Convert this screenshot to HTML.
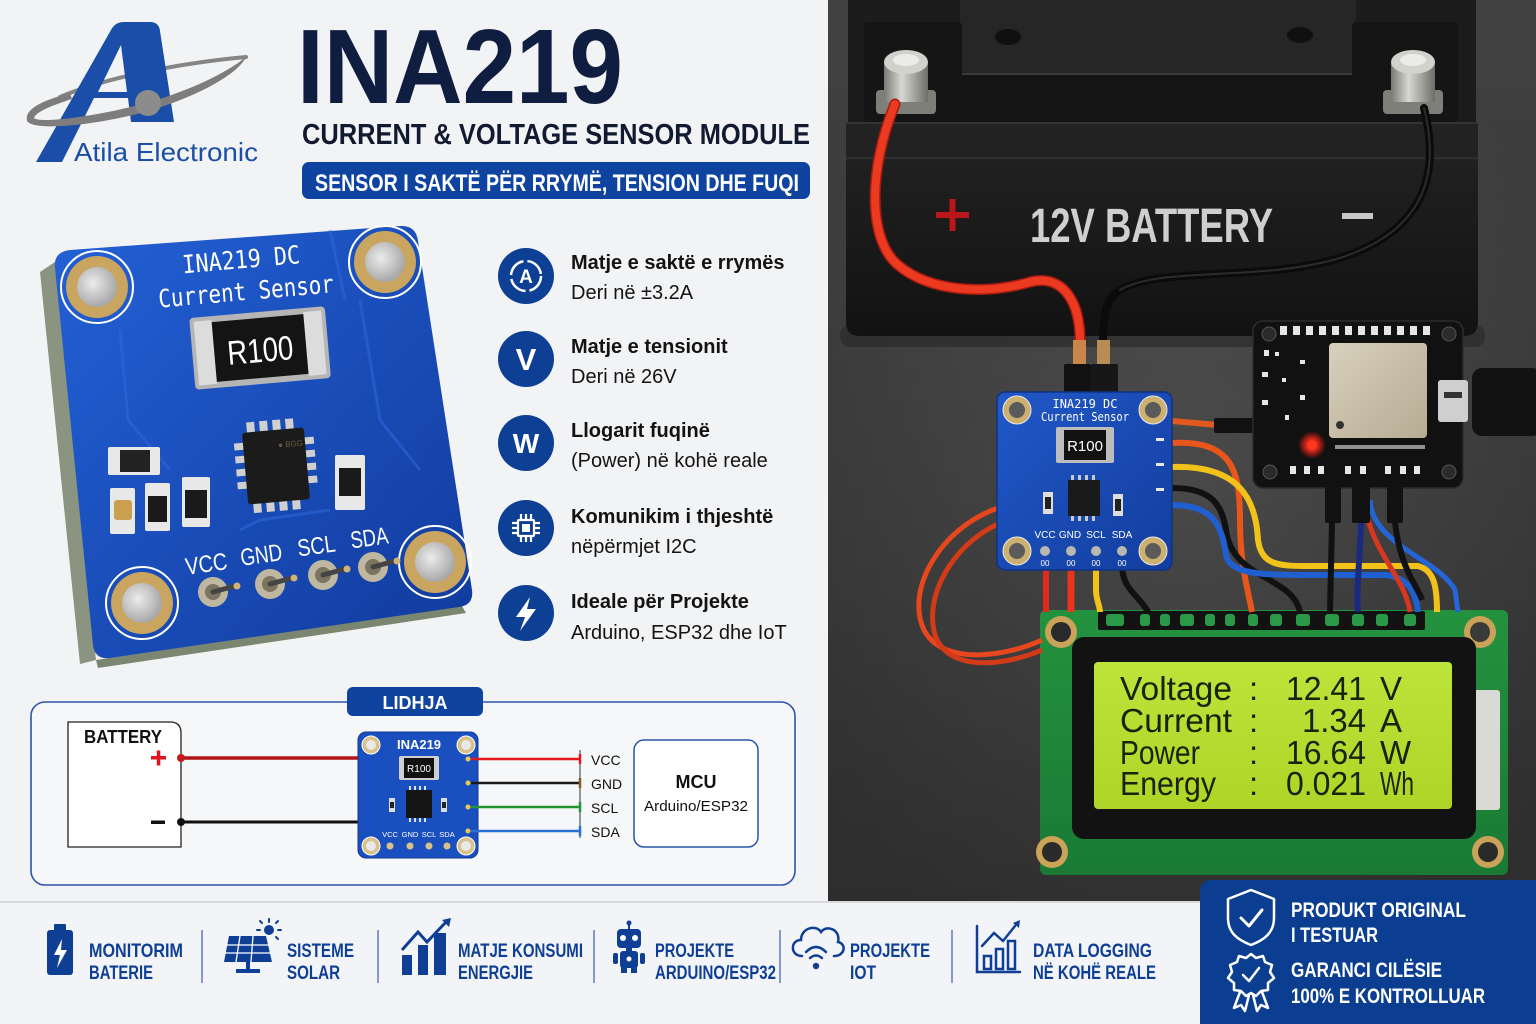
<!DOCTYPE html>
<html><head><meta charset="utf-8">
<style>
html,body{margin:0;padding:0;background:#f2f3f5;}
svg{display:block;}
text{font-family:"Liberation Sans",sans-serif;}
.mono{font-family:"DejaVu Sans Mono","Liberation Mono",monospace;}
.lcd{font-family:"Liberation Mono","DejaVu Sans Mono",monospace;fill:#18220c;}
</style></head><body>
<svg width="1536" height="1024" viewBox="0 0 1536 1024" xmlns="http://www.w3.org/2000/svg">
<defs>
<linearGradient id="floor" x1="0" y1="0" x2="0" y2="1"><stop offset="0" stop-color="#575757"/><stop offset="0.5" stop-color="#4a4a4a"/><stop offset="1" stop-color="#3c3c3c"/></linearGradient>
<radialGradient id="floorr" cx="0.5" cy="0.55" r="0.6"><stop offset="0" stop-color="#000" stop-opacity="0"/><stop offset="1" stop-color="#000" stop-opacity="0.25"/></radialGradient>
<linearGradient id="batt" x1="0" y1="0" x2="0" y2="1"><stop offset="0" stop-color="#202020"/><stop offset="1" stop-color="#121212"/></linearGradient>
<linearGradient id="pcb" x1="0" y1="0" x2="1" y2="1"><stop offset="0" stop-color="#2361d6"/><stop offset="1" stop-color="#113a9c"/></linearGradient>
<linearGradient id="pcb2" x1="0" y1="0" x2="1" y2="1"><stop offset="0" stop-color="#2158c8"/><stop offset="1" stop-color="#123d9e"/></linearGradient>
<linearGradient id="term" x1="0" y1="0" x2="1" y2="0"><stop offset="0" stop-color="#7a7a74"/><stop offset="0.4" stop-color="#d8d8d2"/><stop offset="1" stop-color="#6d6d68"/></linearGradient>
<linearGradient id="lcdg" x1="0" y1="0" x2="0" y2="1"><stop offset="0" stop-color="#bde43a"/><stop offset="1" stop-color="#aed427"/></linearGradient>
<linearGradient id="green" x1="0" y1="0" x2="0" y2="1"><stop offset="0" stop-color="#23923f"/><stop offset="1" stop-color="#1a7a34"/></linearGradient>
<linearGradient id="shield" x1="0" y1="0" x2="1" y2="1"><stop offset="0" stop-color="#d8d0bd"/><stop offset="1" stop-color="#b7ab93"/></linearGradient>
<radialGradient id="led"><stop offset="0" stop-color="#fff3e0"/><stop offset="0.3" stop-color="#ff3020"/><stop offset="1" stop-color="#ff2010" stop-opacity="0"/></radialGradient>
<radialGradient id="hole" cx="0.4" cy="0.4" r="0.6"><stop offset="0" stop-color="#ececec"/><stop offset="1" stop-color="#a8a8a8"/></radialGradient>
</defs>

<!-- LEFT BACKGROUND -->
<rect x="0" y="0" width="828" height="903" fill="#f2f3f5"/>

<!-- ================= PHOTO ================= -->
<rect x="828" y="0" width="708" height="903" fill="url(#floor)"/>
<rect x="828" y="0" width="708" height="903" fill="url(#floorr)"/>
<rect x="840" y="325" width="645" height="22" rx="10" fill="#262626" opacity="0.6"/>
<rect x="848" y="-10" width="628" height="170" rx="10" fill="#1c1c1c"/>
<rect x="960" y="0" width="396" height="74" fill="#262626"/>
<ellipse cx="1008" cy="37" rx="13" ry="8" fill="#101010"/>
<ellipse cx="1300" cy="35" rx="13" ry="8" fill="#101010"/>
<rect x="961" y="73" width="395" height="50" fill="#141414"/>
<line x1="961" y1="74" x2="1356" y2="74" stroke="#3a3a3a" stroke-width="2"/>
<rect x="864" y="22" width="98" height="100" rx="4" fill="#151515"/>
<rect x="1352" y="22" width="106" height="100" rx="4" fill="#151515"/>
<rect x="846" y="122" width="632" height="40" fill="#222"/>
<line x1="846" y1="123" x2="1478" y2="123" stroke="#333" stroke-width="2"/>
<line x1="846" y1="158" x2="1478" y2="158" stroke="#2f2f2f" stroke-width="2"/>
<path d="M846,160 H1478 V322 Q1478,336 1464,336 H860 Q846,336 846,322 Z" fill="url(#batt)"/>
<rect x="876" y="90" width="60" height="24" rx="4" fill="#7f7f7a"/>
<rect x="884" y="62" width="44" height="40" fill="url(#term)"/>
<ellipse cx="906" cy="62" rx="22" ry="12" fill="#d2d2cc"/>
<ellipse cx="906" cy="60" rx="13" ry="6" fill="#ececea"/>
<rect x="1383" y="90" width="60" height="24" rx="4" fill="#7f7f7a"/>
<rect x="1391" y="62" width="44" height="40" fill="url(#term)"/>
<ellipse cx="1413" cy="62" rx="22" ry="12" fill="#d2d2cc"/>
<ellipse cx="1413" cy="60" rx="13" ry="6" fill="#ececea"/>
<rect x="936" y="212" width="33" height="6" fill="#b8161a"/>
<rect x="949.5" y="199" width="6" height="32" fill="#b8161a"/>
<text x="1030" y="242" font-size="48" font-weight="bold" fill="#cfcfcf" textLength="243" lengthAdjust="spacingAndGlyphs">12V BATTERY</text>
<rect x="1342" y="213" width="31" height="6" fill="#c8c8c8"/>

<path d="M895,104 C868,170 868,240 898,265 C930,292 985,295 1030,282 C1062,274 1081,300 1080,345" fill="none" stroke="#a81b10" stroke-width="11" stroke-linecap="round"/>
<path d="M895,104 C868,170 868,240 898,265 C930,292 985,295 1030,282 C1062,274 1081,300 1080,345" fill="none" stroke="#ec3a20" stroke-width="8" stroke-linecap="round"/>
<path d="M1424,108 C1442,180 1420,232 1340,258 C1260,282 1160,266 1120,290 C1104,300 1103,320 1103,345" fill="none" stroke="#0b0b0b" stroke-width="8" stroke-linecap="round"/>
<path d="M1424,108 C1442,180 1420,232 1340,258 C1260,282 1160,266 1120,290" fill="none" stroke="#3a3a3a" stroke-width="2" stroke-linecap="round" opacity="0.7"/>
<rect x="1073" y="340" width="13" height="28" fill="#c8864a"/>
<rect x="1097" y="340" width="13" height="28" fill="#b88c55"/>
<rect x="1064" y="364" width="27" height="32" rx="2" fill="#111"/>
<rect x="1091" y="364" width="27" height="32" rx="2" fill="#171717"/>

<!-- LCD -->
<rect x="1040" y="610" width="468" height="265" rx="6" fill="url(#green)"/>
<rect x="1098" y="611" width="327" height="19" rx="2" fill="#121212"/>
<g fill="#2a9a48">
<rect x="1106" y="614" width="18" height="12" rx="3"/><rect x="1140" y="614" width="10" height="12" rx="3"/><rect x="1160" y="614" width="10" height="12" rx="3"/><rect x="1180" y="614" width="14" height="12" rx="3"/><rect x="1205" y="614" width="10" height="12" rx="3"/><rect x="1225" y="614" width="10" height="12" rx="3"/><rect x="1248" y="614" width="10" height="12" rx="3"/><rect x="1270" y="614" width="12" height="12" rx="3"/><rect x="1296" y="614" width="14" height="12" rx="3"/><rect x="1325" y="614" width="14" height="12" rx="3"/><rect x="1352" y="614" width="12" height="12" rx="3"/><rect x="1376" y="614" width="12" height="12" rx="3"/><rect x="1404" y="614" width="12" height="12" rx="3"/>
</g>
<circle cx="1061" cy="632" r="16" fill="#caa258"/><circle cx="1061" cy="632" r="10" fill="#2a2a2a"/>
<circle cx="1480" cy="632" r="16" fill="#caa258"/><circle cx="1480" cy="632" r="10" fill="#3a3a3a"/>
<circle cx="1052" cy="852" r="16" fill="#caa258"/><circle cx="1052" cy="852" r="10" fill="#2a2a2a"/>
<circle cx="1488" cy="852" r="16" fill="#caa258"/><circle cx="1488" cy="852" r="10" fill="#2a2a2a"/>
<rect x="1470" y="690" width="30" height="120" rx="3" fill="#d9d9d6"/>
<rect x="1072" y="637" width="404" height="202" rx="12" fill="#121212"/>
<rect x="1094" y="662" width="358" height="147" rx="4" fill="url(#lcdg)"/>
<g class="lcd" font-size="33">
<text x="1120" y="700" textLength="112" lengthAdjust="spacingAndGlyphs">Voltage</text>
<text x="1249" y="700">:</text>
<text x="1286" y="700" textLength="80" lengthAdjust="spacingAndGlyphs">12.41</text>
<text x="1380" y="700">V</text>
<text x="1120" y="732" textLength="112" lengthAdjust="spacingAndGlyphs">Current</text>
<text x="1249" y="732">:</text>
<text x="1302" y="732" textLength="64" lengthAdjust="spacingAndGlyphs">1.34</text>
<text x="1380" y="732">A</text>
<text x="1120" y="764" textLength="80" lengthAdjust="spacingAndGlyphs">Power</text>
<text x="1249" y="764">:</text>
<text x="1286" y="764" textLength="80" lengthAdjust="spacingAndGlyphs">16.64</text>
<text x="1380" y="764">W</text>
<text x="1120" y="795" textLength="96" lengthAdjust="spacingAndGlyphs">Energy</text>
<text x="1249" y="795">:</text>
<text x="1286" y="795" textLength="80" lengthAdjust="spacingAndGlyphs">0.021</text>
<text x="1380" y="795" textLength="34" lengthAdjust="spacingAndGlyphs">Wh</text>
</g>

<!-- loop wires left -->
<path d="M998,508 C940,528 905,590 924,630 C944,668 1010,655 1042,640" fill="none" stroke="#e8461c" stroke-width="5"/>
<path d="M998,524 C952,545 922,598 936,638 C954,676 1014,662 1042,650" fill="none" stroke="#d23a18" stroke-width="5"/>
<path d="M1046,565 L1046,612" stroke="#e02a1e" stroke-width="6"/>
<path d="M1071,565 L1071,612" stroke="#e8361e" stroke-width="7"/>
<path d="M1096,565 L1096,590 C1096,600 1100,606 1100,612" fill="none" stroke="#f2c21a" stroke-width="6"/>
<path d="M1122,565 C1122,590 1140,596 1148,612" fill="none" stroke="#111" stroke-width="6"/>
<path d="M1172,443 C1232,440 1240,470 1240,520 C1240,565 1248,590 1252,612" fill="none" stroke="#e9561c" stroke-width="6"/>
<path d="M1172,488 C1212,488 1222,505 1226,530 C1232,580 1292,575 1300,612" fill="none" stroke="#111" stroke-width="6"/>
<path d="M1172,505 C1210,505 1222,522 1226,555 C1230,574 1262,575 1300,575 L1385,575 C1408,577 1416,592 1418,612" fill="none" stroke="#1f5fd0" stroke-width="6"/>
<path d="M1172,467 C1240,465 1256,500 1258,540 C1262,568 1282,566 1320,566 L1418,566 C1434,570 1437,586 1437,612" fill="none" stroke="#f2c21a" stroke-width="6"/>
<path d="M1332,522 L1330,612" stroke="#111" stroke-width="6"/>
<path d="M1361,522 C1360,560 1356,590 1358,612" fill="none" stroke="#1a2a80" stroke-width="6"/>
<path d="M1370,500 C1372,545 1440,560 1455,590 L1458,612" fill="none" stroke="#2466d8" stroke-width="5"/>
<path d="M1368,520 C1380,560 1405,580 1410,612" fill="none" stroke="#d8361e" stroke-width="5"/>
<path d="M1395,522 C1400,570 1420,590 1422,600" fill="none" stroke="#111" stroke-width="6"/>
<path d="M1172,421 L1218,425" stroke="#e05a20" stroke-width="6"/>
<rect x="1214" y="418" width="44" height="15" rx="2" fill="#111"/>

<!-- sensor module (photo) -->
<rect x="997" y="392" width="175" height="178" rx="8" fill="url(#pcb2)" stroke="#0d3288" stroke-width="1.5"/>
<g>
<circle cx="1017" cy="410" r="14" fill="#cdb070" stroke="#e8e8e8" stroke-width="1"/><circle cx="1017" cy="410" r="8" fill="#5a5a5a"/>
<circle cx="1153" cy="410" r="14" fill="#cdb070" stroke="#e8e8e8" stroke-width="1"/><circle cx="1153" cy="410" r="8" fill="#5a5a5a"/>
<circle cx="1017" cy="551" r="14" fill="#cdb070" stroke="#e8e8e8" stroke-width="1"/><circle cx="1017" cy="551" r="8" fill="#5a5a5a"/>
<circle cx="1153" cy="551" r="14" fill="#cdb070" stroke="#e8e8e8" stroke-width="1"/><circle cx="1153" cy="551" r="8" fill="#5a5a5a"/>
</g>
<text class="mono" x="1085" y="408" font-size="12" fill="#fff" text-anchor="middle">INA219 DC</text>
<text class="mono" x="1085" y="421" font-size="12" fill="#fff" text-anchor="middle" textLength="88" lengthAdjust="spacingAndGlyphs">Current Sensor</text>
<rect x="1056" y="427" width="58" height="36" rx="2" fill="#bdbdbd"/>
<rect x="1064" y="430" width="42" height="30" fill="#121212"/>
<text x="1085" y="451" font-size="15" fill="#fff" text-anchor="middle">R100</text>
<rect x="1068" y="480" width="32" height="36" fill="#1a1a1a"/>
<g fill="#c9c9c9"><rect x="1071" y="475" width="3" height="5"/><rect x="1078" y="475" width="3" height="5"/><rect x="1085" y="475" width="3" height="5"/><rect x="1092" y="475" width="3" height="5"/><rect x="1071" y="516" width="3" height="5"/><rect x="1078" y="516" width="3" height="5"/><rect x="1085" y="516" width="3" height="5"/><rect x="1092" y="516" width="3" height="5"/></g>
<rect x="1043" y="492" width="10" height="22" fill="#ddd"/><rect x="1045" y="497" width="6" height="12" fill="#222"/>
<rect x="1113" y="494" width="10" height="22" fill="#ddd"/><rect x="1115" y="499" width="6" height="12" fill="#222"/>
<g fill="#e8e8e8"><rect x="1156" y="438" width="8" height="3"/><rect x="1156" y="463" width="8" height="3"/><rect x="1156" y="488" width="8" height="3"/></g>
<g font-size="10" fill="#fff" text-anchor="middle"><text x="1045" y="538">VCC</text><text x="1070" y="538">GND</text><text x="1096" y="538">SCL</text><text x="1122" y="538">SDA</text></g>
<g fill="#b8b8b0"><circle cx="1045" cy="551" r="5"/><circle cx="1071" cy="551" r="5"/><circle cx="1096" cy="551" r="5"/><circle cx="1122" cy="551" r="5"/></g>
<g font-size="8" fill="#fff" text-anchor="middle"><text x="1045" y="566">00</text><text x="1071" y="566">00</text><text x="1096" y="566">00</text><text x="1122" y="566">00</text></g>

<!-- ESP32 -->
<rect x="1253" y="321" width="210" height="167" rx="10" fill="#111" stroke="#2c2c2c" stroke-width="1.5"/>
<g fill="#e6e6e6">
<rect x="1280" y="326" width="7" height="9"/><rect x="1293" y="326" width="7" height="9"/><rect x="1306" y="326" width="7" height="9"/><rect x="1319" y="326" width="7" height="9"/><rect x="1332" y="326" width="7" height="9"/><rect x="1345" y="326" width="7" height="9"/><rect x="1358" y="326" width="7" height="9"/><rect x="1371" y="326" width="7" height="9"/><rect x="1384" y="326" width="7" height="9"/><rect x="1397" y="326" width="7" height="9"/><rect x="1410" y="326" width="7" height="9"/><rect x="1423" y="326" width="7" height="9"/>
<rect x="1264" y="350" width="5" height="6"/><rect x="1275" y="352" width="4" height="4"/><rect x="1262" y="372" width="6" height="5"/><rect x="1282" y="378" width="4" height="4"/><rect x="1300" y="360" width="5" height="4"/><rect x="1262" y="400" width="6" height="5"/><rect x="1300" y="395" width="5" height="5"/><rect x="1285" y="415" width="4" height="5"/>
<rect x="1290" y="466" width="6" height="8"/><rect x="1304" y="466" width="6" height="8"/><rect x="1318" y="466" width="6" height="8"/><rect x="1345" y="466" width="6" height="8"/><rect x="1360" y="466" width="6" height="8"/><rect x="1385" y="466" width="6" height="8"/><rect x="1400" y="466" width="6" height="8"/><rect x="1414" y="466" width="6" height="8"/>
<rect x="1335" y="445" width="90" height="4" opacity="0.6"/>
</g>
<circle cx="1269" cy="334" r="7" fill="#2b2b2b" stroke="#555"/>
<circle cx="1449" cy="334" r="7" fill="#2b2b2b" stroke="#555"/>
<circle cx="1270" cy="472" r="7" fill="#2b2b2b" stroke="#555"/>
<circle cx="1449" cy="472" r="7" fill="#2b2b2b" stroke="#555"/>
<rect x="1329" y="343" width="98" height="95" rx="4" fill="url(#shield)"/>
<circle cx="1340" cy="425" r="4" fill="#333"/>
<circle cx="1312" cy="445" r="14" fill="url(#led)"/>
<circle cx="1312" cy="445" r="4" fill="#ff3a20"/>
<rect x="1438" y="380" width="30" height="42" rx="3" fill="#cfcfcf"/>
<rect x="1444" y="392" width="18" height="6" fill="#333"/>
<rect x="1472" y="368" width="70" height="68" rx="10" fill="#121212"/>
<rect x="1325" y="487" width="16" height="36" rx="2" fill="#111"/>
<rect x="1352" y="487" width="18" height="36" rx="2" fill="#111"/>
<rect x="1387" y="487" width="16" height="36" rx="2" fill="#111"/>

<!-- ================= HEADER ================= -->
<!-- logo -->
<path d="M60,97 C100,80 170,64 246,57" fill="none" stroke="#858585" stroke-width="4" stroke-linecap="round"/>
<path fill-rule="evenodd" fill="#1a4ea8" d="M36,162 L111,30 Q115,22 124,22 L150,22 Q159,22 160,31 L174,122 L131,122 L128,98 L94,98 L62,162 Z M121,45 L98,92 L127,92 Z"/>
<path d="M27,121 C24,108 45,100 70,93 L72,99 C50,106 36,112 34,118 C40,124 100,116 150,102 C190,90 225,74 246,57 C238,74 200,95 152,110 C100,125 34,132 27,121 Z" fill="#7d7d7d"/>
<circle cx="148" cy="103" r="13" fill="#8c8c8c"/>
<text x="74" y="161" font-size="26" fill="#1b4ea6" textLength="184" lengthAdjust="spacingAndGlyphs">Atila Electronic</text>

<text x="297" y="103" font-size="106" font-weight="bold" fill="#0f1d40" textLength="326" lengthAdjust="spacingAndGlyphs">INA219</text>
<text x="302" y="144" font-size="29" font-weight="bold" fill="#111a30" textLength="508" lengthAdjust="spacingAndGlyphs">CURRENT &amp; VOLTAGE SENSOR MODULE</text>
<rect x="302" y="162" width="508" height="37" rx="7" fill="#0e44a0"/>
<text x="315" y="191" font-size="24" font-weight="bold" fill="#fff" textLength="484" lengthAdjust="spacingAndGlyphs">SENSOR I SAKTË PËR RRYMË, TENSION DHE FUQI</text>

<!-- ================= BIG BOARD ================= -->
<path d="M55,262 L40,272 L80,664 L96,660 Z" fill="#8a9480"/>
<path d="M96,660 L98,668 L466,613 L462,606 Z" fill="#7a8670"/>
<path d="M70,250 L400,226 Q416,225 418,241 L472,590 Q474,605 459,607 L110,658 Q95,660 93,645 L55,268 Q53,252 70,250 Z" fill="url(#pcb)"/>
<g fill="none" stroke="#2f6ae0" stroke-width="3" opacity="0.5">
<path d="M120,330 L128,420 L170,470"/><path d="M360,300 L380,420 L420,470"/><path d="M330,230 L345,300"/><path d="M240,530 L260,520 L330,510"/>
</g>
<g>
<circle cx="97" cy="287" r="36" fill="none" stroke="#fff" stroke-width="2"/><circle cx="97" cy="287" r="31" fill="#c9a560"/><circle cx="97" cy="287" r="20" fill="url(#hole)"/>
<circle cx="385" cy="262" r="36" fill="none" stroke="#fff" stroke-width="2"/><circle cx="385" cy="262" r="31" fill="#c9a560"/><circle cx="385" cy="262" r="20" fill="url(#hole)"/>
<circle cx="142" cy="603" r="36" fill="none" stroke="#fff" stroke-width="2"/><circle cx="142" cy="603" r="31" fill="#c9a560"/><circle cx="142" cy="603" r="20" fill="url(#hole)"/>
<circle cx="435" cy="562" r="36" fill="none" stroke="#fff" stroke-width="2"/><circle cx="435" cy="562" r="31" fill="#c9a560"/><circle cx="435" cy="562" r="20" fill="url(#hole)"/>
</g>
<g transform="rotate(-5 245 280)">
<text class="mono" x="243" y="268" font-size="25" fill="#fff" text-anchor="middle" textLength="118" lengthAdjust="spacingAndGlyphs">INA219 DC</text>
<text class="mono" x="245" y="300" font-size="25" fill="#fff" text-anchor="middle" textLength="176" lengthAdjust="spacingAndGlyphs">Current Sensor</text>
</g>
<g transform="rotate(-5 260 347)">
<rect x="192" y="312" width="136" height="72" rx="4" fill="#b5b5b5"/>
<rect x="196" y="316" width="18" height="64" fill="#dcdcdc"/>
<rect x="306" y="316" width="18" height="64" fill="#dcdcdc"/>
<rect x="214" y="318" width="92" height="60" fill="#141414"/>
<text x="260" y="362" font-size="34" fill="#fff" text-anchor="middle" textLength="66" lengthAdjust="spacingAndGlyphs">R100</text>
</g>
<g transform="rotate(-5 276 466)">
<g fill="#d0d0d0">
<rect x="250" y="420" width="8" height="11"/><rect x="263" y="420" width="8" height="11"/><rect x="276" y="420" width="8" height="11"/><rect x="289" y="420" width="8" height="11"/>
<rect x="250" y="500" width="8" height="11"/><rect x="263" y="500" width="8" height="11"/><rect x="276" y="500" width="8" height="11"/><rect x="289" y="500" width="8" height="11"/>
<rect x="236" y="440" width="11" height="7"/><rect x="236" y="453" width="11" height="7"/><rect x="236" y="466" width="11" height="7"/><rect x="236" y="479" width="11" height="7"/>
<rect x="305" y="440" width="11" height="7"/><rect x="305" y="453" width="11" height="7"/><rect x="305" y="466" width="11" height="7"/><rect x="305" y="479" width="11" height="7"/>
</g>
<rect x="245" y="430" width="62" height="72" rx="3" fill="#1b1b1b"/>
<text x="280" y="448" font-size="8" fill="#6a6040">● BGG</text>
</g>
<g>
<rect x="108" y="447" width="52" height="28" rx="2" fill="#e8e8e8"/><rect x="120" y="450" width="30" height="22" fill="#222"/>
<rect x="110" y="488" width="25" height="46" rx="2" fill="#e8e8e8"/><rect x="114" y="500" width="18" height="20" rx="3" fill="#c8a050"/>
<rect x="145" y="483" width="25" height="48" rx="2" fill="#e8e8e8"/><rect x="148" y="496" width="19" height="26" fill="#1a1a1a"/>
<rect x="182" y="477" width="28" height="50" rx="2" fill="#e8e8e8"/><rect x="185" y="490" width="22" height="28" fill="#1a1a1a"/>
<rect x="335" y="455" width="30" height="55" rx="2" fill="#e8e8e8"/><rect x="339" y="468" width="22" height="28" fill="#1a1a1a"/>
</g>
<g font-size="24" fill="#fff" text-anchor="middle">
<text x="206" y="572" transform="rotate(-8 206 562)" textLength="42" lengthAdjust="spacingAndGlyphs">VCC</text>
<text x="261" y="563" transform="rotate(-8 261 553)" textLength="42" lengthAdjust="spacingAndGlyphs">GND</text>
<text x="316" y="554" transform="rotate(-8 316 544)" textLength="38" lengthAdjust="spacingAndGlyphs">SCL</text>
<text x="369" y="546" transform="rotate(-8 369 536)" textLength="38" lengthAdjust="spacingAndGlyphs">SDA</text>
</g>
<g>
<circle cx="213" cy="592" r="15" fill="#bfb7a0"/><circle cx="213" cy="592" r="8" fill="#7a7460"/><line x1="213" y1="592" x2="235" y2="586" stroke="#444" stroke-width="5" stroke-linecap="round"/><circle cx="237" cy="586" r="3.5" fill="#cdb27a"/>
<circle cx="270" cy="584" r="15" fill="#bfb7a0"/><circle cx="270" cy="584" r="8" fill="#7a7460"/><line x1="270" y1="584" x2="292" y2="578" stroke="#444" stroke-width="5" stroke-linecap="round"/><circle cx="294" cy="578" r="3.5" fill="#cdb27a"/>
<circle cx="323" cy="575" r="15" fill="#bfb7a0"/><circle cx="323" cy="575" r="8" fill="#7a7460"/><line x1="323" y1="575" x2="345" y2="569" stroke="#444" stroke-width="5" stroke-linecap="round"/><circle cx="347" cy="569" r="3.5" fill="#cdb27a"/>
<circle cx="373" cy="567" r="15" fill="#bfb7a0"/><circle cx="373" cy="567" r="8" fill="#7a7460"/><line x1="373" y1="567" x2="395" y2="561" stroke="#444" stroke-width="5" stroke-linecap="round"/><circle cx="397" cy="561" r="3.5" fill="#cdb27a"/>
</g>

<!-- ================= FEATURES ================= -->
<g fill="#0d3f94">
<circle cx="526" cy="276" r="28"/><circle cx="526" cy="359" r="28"/><circle cx="526" cy="443" r="28"/><circle cx="526" cy="528" r="28"/><circle cx="526" cy="613" r="28"/>
</g>
<circle cx="526" cy="276" r="15" fill="none" stroke="#fff" stroke-width="2.5" stroke-dasharray="20 4"/>
<text x="526" y="283" font-size="19" font-weight="bold" fill="#fff" text-anchor="middle">A</text>
<text x="526" y="370" font-size="31" font-weight="bold" fill="#fff" text-anchor="middle">V</text>
<text x="526" y="453" font-size="28" font-weight="bold" fill="#fff" text-anchor="middle">W</text>
<g stroke="#fff" stroke-width="2.2" fill="none">
<rect x="518" y="520" width="16" height="16" rx="1"/>
<path d="M521,514 V519 M526,514 V519 M531,514 V519 M521,537 V542 M526,537 V542 M531,537 V542 M512,523 H517 M512,528 H517 M512,533 H517 M535,523 H540 M535,528 H540 M535,533 H540"/>
</g>
<rect x="522" y="524" width="8" height="8" fill="#fff"/>
<path d="M530,597 L516,617 L525,617 L520,631 L536,609 L527,609 Z" fill="#fff"/>
<g font-size="20" fill="#131313">
<text x="571" y="269" font-weight="bold">Matje e saktë e rrymës</text>
<text x="571" y="299">Deri në ±3.2A</text>
<text x="571" y="353" font-weight="bold">Matje e tensionit</text>
<text x="571" y="383">Deri në 26V</text>
<text x="571" y="437" font-weight="bold">Llogarit fuqinë</text>
<text x="571" y="467">(Power) në kohë reale</text>
<text x="571" y="523" font-weight="bold">Komunikim i thjeshtë</text>
<text x="571" y="553">nëpërmjet I2C</text>
<text x="571" y="608" font-weight="bold">Ideale për Projekte</text>
<text x="571" y="639">Arduino, ESP32 dhe IoT</text>
</g>

<!-- ================= LIDHJA ================= -->
<rect x="31" y="702" width="764" height="183" rx="14" fill="#f6f7f9" stroke="#2c55a8" stroke-width="1.6"/>
<rect x="347" y="687" width="136" height="29" rx="6" fill="#0e44a0"/>
<text x="415" y="709" font-size="18" font-weight="bold" fill="#fff" text-anchor="middle">LIDHJA</text>
<path d="M68,722 H170 Q181,722 181,733 V847 H68 Z" fill="#fff" stroke="#222" stroke-width="1.3"/>
<text x="84" y="743" font-size="18" font-weight="bold" fill="#111" textLength="78" lengthAdjust="spacingAndGlyphs">BATTERY</text>
<rect x="151" y="756" width="15" height="3.5" fill="#e0141c"/><rect x="156.8" y="750.5" width="3.5" height="15" fill="#e0141c"/>
<rect x="151" y="820.5" width="14" height="3.5" fill="#111"/>
<line x1="181" y1="758" x2="364" y2="758" stroke="#b41418" stroke-width="3.5"/>
<circle cx="181" cy="758" r="4" fill="#c81a1a"/>
<line x1="181" y1="822" x2="364" y2="822" stroke="#111" stroke-width="3"/>
<circle cx="181" cy="822" r="4" fill="#111"/>
<rect x="358" y="732" width="120" height="126" rx="8" fill="#1a4fc0" stroke="#0f3a94" stroke-width="1"/>
<g>
<circle cx="371" cy="745" r="9" fill="#d9c28a" stroke="#fff" stroke-width="1"/><circle cx="371" cy="745" r="5" fill="#e9e9e9"/>
<circle cx="466" cy="745" r="9" fill="#d9c28a" stroke="#fff" stroke-width="1"/><circle cx="466" cy="745" r="5" fill="#e9e9e9"/>
<circle cx="371" cy="846" r="9" fill="#d9c28a" stroke="#fff" stroke-width="1"/><circle cx="371" cy="846" r="5" fill="#e9e9e9"/>
<circle cx="466" cy="846" r="9" fill="#d9c28a" stroke="#fff" stroke-width="1"/><circle cx="466" cy="846" r="5" fill="#e9e9e9"/>
</g>
<text x="419" y="749" font-size="13" font-weight="bold" fill="#fff" text-anchor="middle">INA219</text>
<rect x="399" y="756" width="40" height="24" rx="2" fill="#cfcfcf"/>
<rect x="404" y="758" width="30" height="20" fill="#111"/>
<text x="419" y="772" font-size="10" fill="#fff" text-anchor="middle">R100</text>
<rect x="406" y="790" width="26" height="28" fill="#151515"/>
<g fill="#ddd"><rect x="409" y="786" width="2" height="4"/><rect x="414" y="786" width="2" height="4"/><rect x="419" y="786" width="2" height="4"/><rect x="424" y="786" width="2" height="4"/><rect x="409" y="818" width="2" height="4"/><rect x="414" y="818" width="2" height="4"/><rect x="419" y="818" width="2" height="4"/><rect x="424" y="818" width="2" height="4"/></g>
<rect x="389" y="798" width="6" height="14" fill="#ddd"/><rect x="390" y="802" width="4" height="6" fill="#222"/>
<rect x="441" y="798" width="6" height="14" fill="#ddd"/><rect x="442" y="802" width="4" height="6" fill="#222"/>
<g font-size="7.5" fill="#fff" text-anchor="middle"><text x="390" y="837">VCC</text><text x="410" y="837">GND</text><text x="429" y="837">SCL</text><text x="447" y="837">SDA</text></g>
<g fill="#d9c28a"><circle cx="390" cy="846" r="3.5"/><circle cx="410" cy="846" r="3.5"/><circle cx="429" cy="846" r="3.5"/><circle cx="447" cy="846" r="3.5"/></g>
<g fill="#e7c95a"><circle cx="468" cy="759" r="2.5"/><circle cx="468" cy="783" r="2.5"/><circle cx="468" cy="807" r="2.5"/><circle cx="468" cy="831" r="2.5"/></g>
<line x1="580" y1="750" x2="580" y2="838" stroke="#333" stroke-width="1"/>
<line x1="471" y1="759" x2="580" y2="759" stroke="#e3191e" stroke-width="2.5"/>
<line x1="471" y1="783" x2="580" y2="783" stroke="#1a1a1a" stroke-width="2.5"/>
<line x1="471" y1="807" x2="580" y2="807" stroke="#209430" stroke-width="2.5"/>
<line x1="471" y1="831" x2="580" y2="831" stroke="#2a6fd6" stroke-width="2.5"/>
<g stroke-width="2.5"><line x1="580" y1="754" x2="580" y2="764" stroke="#e3191e"/><line x1="580" y1="778" x2="580" y2="788" stroke="#8a5a20"/><line x1="580" y1="802" x2="580" y2="812" stroke="#209430"/><line x1="580" y1="826" x2="580" y2="836" stroke="#2a6fd6"/></g>
<g font-size="14" fill="#111"><text x="591" y="765">VCC</text><text x="591" y="789">GND</text><text x="591" y="813">SCL</text><text x="591" y="837">SDA</text></g>
<rect x="634" y="740" width="124" height="107" rx="10" fill="#fff" stroke="#2c55a8" stroke-width="1.5"/>
<text x="696" y="788" font-size="18" font-weight="bold" fill="#111" text-anchor="middle">MCU</text>
<text x="696" y="811" font-size="15" fill="#111" text-anchor="middle" textLength="104" lengthAdjust="spacingAndGlyphs">Arduino/ESP32</text>

<!-- ================= BOTTOM STRIP ================= -->
<rect x="0" y="901" width="1536" height="4" fill="#d8d9dc"/>
<rect x="0" y="903" width="1536" height="121" fill="#f3f4f7"/>
<g stroke="#4a6ab0" stroke-width="1.3"><line x1="202" y1="930" x2="202" y2="983"/><line x1="378" y1="930" x2="378" y2="983"/><line x1="594" y1="930" x2="594" y2="983"/><line x1="780" y1="930" x2="780" y2="983"/><line x1="952" y1="930" x2="952" y2="983"/></g>
<g fill="#0e3f94">
<rect x="47" y="930" width="26" height="45" rx="3"/><rect x="54" y="924" width="12" height="7" rx="1"/>
<path d="M229,936 L266,936 L272,962 L224,962 Z"/><rect x="246" y="962" width="4" height="8"/><rect x="236" y="969" width="24" height="4"/>
<circle cx="269" cy="930" r="5"/>
<rect x="402" y="955" width="10" height="20"/><rect x="418" y="945" width="10" height="30"/><rect x="434" y="933" width="12" height="42"/>
<path d="M442,920 L451,918 L449,927 Z"/>
<rect x="617" y="929" width="24" height="19" rx="4"/><rect x="620" y="951" width="18" height="17" rx="3"/><rect x="613" y="953" width="5" height="11" rx="2"/><rect x="640" y="953" width="5" height="11" rx="2"/><rect x="621" y="967" width="6" height="6"/><rect x="631" y="967" width="6" height="6"/><circle cx="629" cy="923" r="2.5"/><rect x="628" y="923" width="2" height="7"/><rect x="626" y="947" width="6" height="5"/>
<circle cx="816" cy="966" r="3.2"/>
</g>
<path d="M62,939 L54,955 L60,955 L57,968 L67,950 L61,950 Z" fill="#fff"/>
<g stroke="#fff" stroke-width="1.3"><line x1="240" y1="936" x2="236" y2="962"/><line x1="253" y1="936" x2="251" y2="962"/><line x1="226" y1="945" x2="269" y2="945"/><line x1="225" y1="953" x2="271" y2="953"/></g>
<g stroke="#0e3f94" stroke-width="2" stroke-linecap="round"><line x1="269" y1="919" x2="269" y2="922"/><line x1="278" y1="930" x2="281" y2="930"/><line x1="260" y1="930" x2="257" y2="930"/><line x1="276" y1="923" x2="278" y2="921"/><line x1="262" y1="923" x2="260" y2="921"/><line x1="276" y1="937" x2="278" y2="939"/></g>
<path d="M402,950 L418,932 L427,942 L446,922" fill="none" stroke="#0e3f94" stroke-width="3"/>
<g fill="#fff"><circle cx="623" cy="938" r="3"/><circle cx="635" cy="938" r="3"/><circle cx="629" cy="959" r="2.5"/></g>
<g fill="none" stroke="#0e3f94" stroke-width="2.5" stroke-linecap="round">
<path d="M802,956 C790,956 790,940 801,940 C801,928 816,924 821,932 C827,924 841,930 838,942 C847,944 845,956 834,956"/>
<path d="M806,952 Q816,942 826,952"/><path d="M810,958 Q816,953 822,958"/>
<path d="M977,926 L977,972 L1020,972"/>
<rect x="984" y="956" width="7" height="13"/><rect x="996" y="949" width="7" height="20"/><rect x="1008" y="941" width="7" height="28"/>
<path d="M982,946 L994,933 L1003,941 L1015,926"/>
</g>
<path d="M1013,923 L1020,920 L1019,928 Z" fill="#0e3f94"/>
<g font-size="19" font-weight="bold" fill="#0e3f94">
<text x="89" y="957" textLength="94" lengthAdjust="spacingAndGlyphs">MONITORIM</text>
<text x="89" y="979" textLength="64" lengthAdjust="spacingAndGlyphs">BATERIE</text>
<text x="287" y="957" textLength="67" lengthAdjust="spacingAndGlyphs">SISTEME</text>
<text x="287" y="979" textLength="53" lengthAdjust="spacingAndGlyphs">SOLAR</text>
<text x="458" y="957" textLength="125" lengthAdjust="spacingAndGlyphs">MATJE KONSUMI</text>
<text x="458" y="979" textLength="75" lengthAdjust="spacingAndGlyphs">ENERGJIE</text>
<text x="655" y="957" textLength="79" lengthAdjust="spacingAndGlyphs">PROJEKTE</text>
<text x="655" y="979" textLength="121" lengthAdjust="spacingAndGlyphs">ARDUINO/ESP32</text>
<text x="850" y="957" textLength="80" lengthAdjust="spacingAndGlyphs">PROJEKTE</text>
<text x="850" y="979" textLength="26" lengthAdjust="spacingAndGlyphs">IOT</text>
<text x="1033" y="957" textLength="119" lengthAdjust="spacingAndGlyphs">DATA LOGGING</text>
<text x="1033" y="979" textLength="123" lengthAdjust="spacingAndGlyphs">NË KOHË REALE</text>
</g>

<!-- badge -->
<path d="M1212,880 H1536 V1024 H1200 V892 Q1200,880 1212,880 Z" fill="#0b3d91"/>
<g fill="none" stroke="#fff" stroke-width="2.5" stroke-linejoin="round" stroke-linecap="round">
<path d="M1251,890 L1274,899 L1274,918 C1274,933 1264,940 1251,945 C1238,940 1228,933 1228,918 L1228,899 Z"/>
<path d="M1241,918 L1249,926 L1262,910" stroke-width="3"/>
<path d="M1251,954 L1256,958 L1263,956 L1265,962 L1272,965 L1270,972 L1274,978 L1268,983 L1268,990 L1261,991 L1256,996 L1251,993 L1246,996 L1241,991 L1234,990 L1234,983 L1228,978 L1232,972 L1230,965 L1237,962 L1239,956 L1246,958 Z"/>
<path d="M1240,992 L1234,1008 L1241,1005 L1245,1011 L1249,995"/>
<path d="M1262,992 L1268,1008 L1261,1005 L1257,1011 L1253,995"/>
<path d="M1243,975 L1249,981 L1259,968"/>
</g>
<g font-size="21" font-weight="bold" fill="#fff">
<text x="1291" y="917" textLength="175" lengthAdjust="spacingAndGlyphs">PRODUKT ORIGINAL</text>
<text x="1291" y="942" textLength="87" lengthAdjust="spacingAndGlyphs">I TESTUAR</text>
<text x="1291" y="977" textLength="151" lengthAdjust="spacingAndGlyphs">GARANCI CILËSIE</text>
<text x="1291" y="1003" textLength="194" lengthAdjust="spacingAndGlyphs">100% E KONTROLLUAR</text>
</g>
</svg>
</body></html>
